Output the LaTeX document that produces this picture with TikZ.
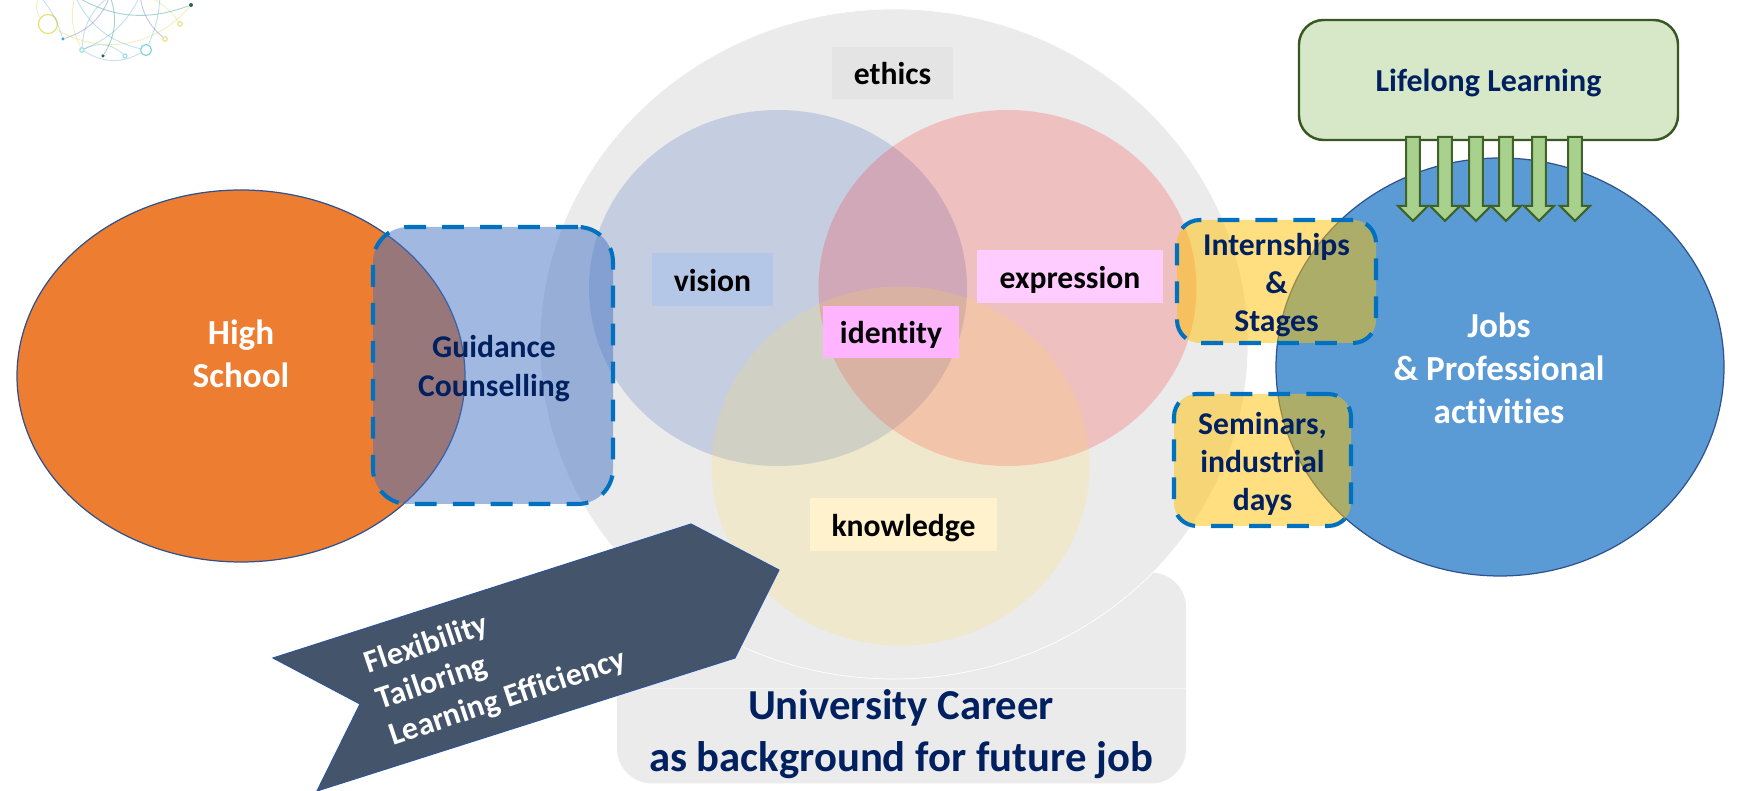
\documentclass[tikz,border=0pt]{standalone}
\usepackage{fontspec}
\setmainfont{Carlito}[Ligatures=NoCommon]
\usetikzlibrary{shapes.geometric,shapes.arrows}
\definecolor{navytext}{RGB}{0,32,96}
\definecolor{dashblue}{RGB}{0,112,192}
\definecolor{careergray}{RGB}{235,235,235}
\tikzset{
  careertext/.style={text=navytext,font=\bfseries\fontsize{9}{10.9}\selectfont,align=center},
  lighttext/.style={text=white,font=\bfseries\fontsize{10}{12.2}\selectfont,align=center},
  dashbox/.style={draw=dashblue,line width=1.15pt,dash pattern=on 6.2pt off 4.6pt,rounded corners=6.5pt,fill opacity=0.5,inner sep=0pt},
  bigcircle/.style={ellipse,inner sep=0pt,draw={rgb,255:red,47;green,82;blue,143},line width=0.35pt},
  venncircle/.style={ellipse,inner sep=0pt,fill opacity=0.2},
  tagbox/.style={inner sep=0pt,text=black,font=\bfseries\fontsize{9}{10.9}\selectfont,text height=0.26cm,text depth=0.02cm},
  learnarrow/.style={single arrow,shape border rotate=270,draw={rgb,255:red,63;green,98;blue,40},line width=0.6pt,fill={rgb,255:red,169;green,209;blue,142},inner sep=0.058cm,minimum height=0.84cm,single arrow head extend=0.0825cm},
  logoline/.style={line width=0.25pt,opacity=0.35},
  logoring/.style={circle,draw,fill=white,inner sep=0pt,line width=0.35pt}
}
\newcommand{\venn}[5]{\node[venncircle,fill={#4},minimum width=3.78cm,minimum height=#5] (#3) at (#1,#2) {};}
\newcommand{\tagnode}[7]{\node[tagbox,fill={#5},minimum width=#6,minimum height=#7] (#3) at (#1,#2) {#4};}
\newcommand{\dropnode}[2]{\node[learnarrow] (#2) at (#1,6.155) {};}

\begin{document}
\begin{tikzpicture}
	\useasboundingbox (0,0) rectangle (17.37,7.91);
	\fill[white] (0,0) rectangle (17.37,7.91);
	\node[fill=careergray,rounded corners=10pt,minimum width=5.69cm,minimum height=2.11cm,inner sep=0pt] (careerbox) at (9.015,1.13) {};
	\draw[white,line width=0.2pt,opacity=0.5] (careerbox.west |- 0,1.03) coordinate (careerl) -- (careerbox.east |- 0,1.03) coordinate (careerr);
	\node[ellipse,fill=careergray,draw=white,line width=0.2pt,inner sep=0pt,minimum width=7.08cm,minimum height=6.7cm] (university) at (8.94,4.47) {};
	\venn{7.78}{5.03}{vision}{rgb,255:red,47;green,85;blue,180}{3.56cm}
	\venn{10.075}{5.03}{expression}{rgb,255:red,255;green,20;blue,20}{3.56cm}
	\venn{9.005}{3.25}{knowledge}{rgb,255:red,255;green,220;blue,85}{3.59cm}
	\tagnode{8.925}{7.18}{ethicstag}{ethics}{rgb,255:red,228;green,228;blue,228}{1.21cm}{0.52cm}
	\tagnode{7.125}{5.115}{visiontag}{vision}{rgb,255:red,180;green,199;blue,231}{1.21cm}{0.53cm}
	\tagnode{10.7}{5.145}{expressiontag}{expression}{rgb,255:red,255;green,204;blue,255}{1.86cm}{0.53cm}
	\tagnode{8.91}{4.59}{identitytag}{identity}{rgb,255:red,255;green,180;blue,255}{1.36cm}{0.52cm}
	\tagnode{9.035}{2.66}{knowledgetag}{knowledge}{rgb,255:red,255;green,242;blue,204}{1.87cm}{0.53cm}
	\node[bigcircle,fill={rgb,255:red,237;green,125;blue,49},minimum width=4.48cm,minimum height=3.72cm] (highschool) at (2.41,4.15) {};
	\node[lighttext] (highschooltext) at (2.41,4.37) {High\\School};
	\node[bigcircle,fill={rgb,255:red,91;green,155;blue,213},minimum width=4.48cm,minimum height=4.18cm] (jobs) at (15,4.24) {};
	\node[lighttext] (jobstext) at (14.99,4.23) {Jobs\\\& Professional\\activities};
	\node[dashbox,rounded corners=10pt,fill={rgb,255:red,68;green,114;blue,196},minimum width=2.4cm,minimum height=2.77cm] (guidance) at (4.93,4.255) {};
	\node[careertext] (guidancetext) at (4.94,4.225) {Guidance\\Counselling};
	\node[dashbox,fill={rgb,255:red,255;green,192;blue,0},minimum width=1.99cm,minimum height=1.23cm] (internships) at (12.765,5.095) {};
	\node[careertext] (internshipstext) at (12.765,5.06) {Internships\\\&\\Stages};
	\node[dashbox,fill={rgb,255:red,255;green,192;blue,0},minimum width=1.77cm,minimum height=1.32cm] (seminars) at (12.625,3.31) {};
	\node[careertext] (seminarstext) at (12.625,3.27) {Seminars,\\industrial\\days};
	\node[draw={rgb,255:red,56;green,87;blue,35},line width=0.7pt,fill={rgb,255:red,215;green,232;blue,200},rounded corners=7pt,minimum width=3.79cm,minimum height=1.2cm,inner sep=0pt] (lifelong) at (14.885,7.11) {};
	\node[careertext,font=\bfseries\fontsize{9.1}{11}\selectfont] (lifelongtext) at (14.885,7.08) {Lifelong Learning};
	\dropnode{14.13}{dropa} \dropnode{14.45}{dropb} \dropnode{14.76}{dropc}
	\dropnode{15.06}{dropd} \dropnode{15.39}{drope} \dropnode{15.75}{dropf}
	\coordinate (ribbontip) at (6.91,2.67);
	\fill[fill={rgb,255:red,68;green,84;blue,106},draw={rgb,255:red,47;green,85;blue,151},line width=0.3pt] (ribbontip) -- (7.79,2.21) -- (7.35,1.33) -- (3.17,0) -- (3.6,0.87) -- (2.73,1.33) -- cycle;
	\node[text=white,font=\bfseries\fontsize{9.1}{10.9}\selectfont,align=left,rotate=18.5,anchor=west] (ribbontext) at (3.665,0.855) {Flexibility\\Tailoring\\Learning Efficiency};
	\node[careertext,font=\bfseries\fontsize{12.15}{14.8}\selectfont] (careertext) at (9.01,0.57) {University Career\\as background for future job};
	\node[logoring,draw={rgb,255:red,232;green,224;blue,120},minimum size=0.19cm] (lga) at (0.48,7.67) {};
	\node[circle,fill={rgb,255:red,60;green,170;blue,225},inner sep=0pt,minimum size=0.035cm] (lgb) at (0.63,7.52) {};
	\node[logoring,draw={rgb,255:red,160;green,225;blue,230},minimum size=0.045cm] (lgc) at (0.82,7.41) {};
	\node[circle,fill={rgb,255:red,40;green,100;blue,90},inner sep=0pt,minimum size=0.035cm] (lgd) at (1.03,7.35) {};
	\node[logoring,draw={rgb,255:red,160;green,225;blue,230},minimum size=0.04cm] (lge) at (1.25,7.35) {};
	\node[logoring,draw={rgb,255:red,130;green,215;blue,215},minimum size=0.11cm] (lgf) at (1.46,7.41) {};
	\node[logoring,draw={rgb,255:red,232;green,228;blue,140},minimum size=0.045cm] (lgg) at (1.65,7.52) {};
	\node[logoring,draw={rgb,255:red,232;green,228;blue,140},minimum size=0.045cm] (lgh) at (1.80,7.67) {};
	\node[circle,fill={rgb,255:red,40;green,100;blue,90},inner sep=0pt,minimum size=0.04cm] (lgi) at (1.91,7.86) {};
	\coordinate (lgta) at (0.4,7.95); \coordinate (lgtb) at (0.75,7.95); \coordinate (lgtc) at (1.1,7.95); \coordinate (lgtd) at (1.4,7.95); \coordinate (lgte) at (1.6,7.95);
	\draw[logoline,cyan!60!gray] (lgc) to[bend left=25] (lgtc);
	\draw[logoline,cyan!60!gray] (lgc) to[bend right=30] (lgf);
	\draw[logoline,cyan!60!gray] (lgc) to[bend left=35] (lge);
	\draw[logoline,cyan!60!gray] (lgc) to[bend right=20] (lgtd);
	\draw[logoline,cyan!70!gray] (lgf) to[bend left=25] (lgtb);
	\draw[logoline,cyan!70!gray] (lgf) to[bend right=10] (lgte);
	\draw[logoline,yellow!70!gray] (lga) to[bend right=40] (lgi);
	\draw[logoline,yellow!70!gray] (lga) to[bend left=35] (lgta);
	\draw[logoline,yellow!70!gray] (lgh) to[bend right=35] (lgtc);
	\draw[logoline,yellow!70!gray] (lgc) to[bend left=20] (lgtb);
	\draw[logoline,blue!30!gray] (lgb) to[bend right=25] (lgtc);
	\draw[logoline,blue!30!gray] (lgg) to[bend left=20] (lgtd);
	\draw[logoline,teal] (lgd) to[bend right=25] (lgtc);
	\draw[logoline,teal] (lgi) to[bend left=25] (lgtb);
	\draw[logoline,cyan!60!gray] (lgb) to[bend right=10] (lgta);
\end{tikzpicture}
\end{document}
